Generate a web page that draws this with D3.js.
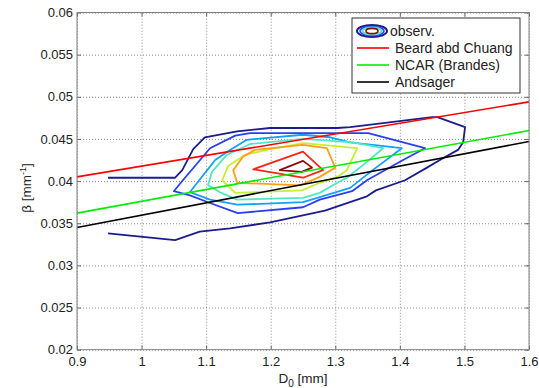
<!DOCTYPE html>
<html>
<head>
<meta charset="utf-8">
<script src="https://cdn.jsdelivr.net/npm/d3@7"></script>
<style>
  body { margin: 0; background: #fff; }
  svg { font-family: "Liberation Sans", Arial, sans-serif; }
</style>
</head>
<body>
<div id="chart"></div>
<script>
// axes
const xTicks = [0.9, 1, 1.1, 1.2, 1.3, 1.4, 1.5, 1.6];
const yTicks = [0.02, 0.025, 0.03, 0.035, 0.04, 0.045, 0.05, 0.055, 0.06];

// fitted lines: beta at D0 = 0.9 and 1.6
const lineNames = ["Beard abd Chuang", "NCAR (Brandes)", "Andsager"];
const lineEnds = [
  [[0.9, 0.0405], [1.6, 0.0494]],
  [[0.9, 0.0362], [1.6, 0.0460]],
  [[0.9, 0.0345], [1.6, 0.0447]]
];

// observed contours, outermost first (D0, beta)
const contourOuter = [[0.948,0.0338],[1.052,0.0330],[1.090,0.0340],[1.137,0.0344],[1.199,0.0351],[1.284,0.0365],[1.349,0.0382],[1.363,0.0389],[1.408,0.0401],[1.442,0.0416],[1.462,0.0425],[1.490,0.0437],[1.498,0.0446],[1.501,0.0464],[1.458,0.0476],[1.450,0.0476],[1.323,0.0464],[1.303,0.0463],[1.199,0.0463],[1.148,0.0459],[1.098,0.0452],[1.080,0.0438],[1.063,0.0413],[1.052,0.0404],[0.948,0.0404]];
const contour2 = [[1.050,0.0388],[1.075,0.0383],[1.106,0.0374],[1.149,0.0362],[1.250,0.0369],[1.276,0.0378],[1.326,0.0388],[1.349,0.0401],[1.405,0.0425],[1.439,0.0439],[1.351,0.0457],[1.168,0.0457],[1.145,0.0454],[1.106,0.0439],[1.064,0.0401]];
const contour3 = [[1.075,0.0387],[1.106,0.0378],[1.148,0.0372],[1.250,0.0375],[1.276,0.0381],[1.323,0.0392],[1.358,0.0413],[1.403,0.0439],[1.323,0.0446],[1.292,0.0452],[1.250,0.0455],[1.163,0.0449],[1.137,0.0437],[1.114,0.0425]];
const contour4 = [[1.103,0.0395],[1.109,0.0411],[1.132,0.0431],[1.168,0.0444],[1.250,0.0450],[1.327,0.0446],[1.374,0.0439],[1.343,0.0419],[1.318,0.0404],[1.303,0.0398],[1.276,0.0386],[1.250,0.0380],[1.148,0.0378],[1.121,0.0387]];
const contour5 = [[1.125,0.0401],[1.134,0.0418],[1.160,0.0431],[1.199,0.0438],[1.250,0.0445],[1.292,0.0442],[1.334,0.0439],[1.318,0.0413],[1.303,0.0405],[1.276,0.0398],[1.248,0.0389],[1.145,0.0386]];
const contour6 = [[1.142,0.0413],[1.157,0.0429],[1.176,0.0437],[1.250,0.0443],[1.287,0.0439],[1.300,0.0416],[1.276,0.0405],[1.245,0.0395],[1.148,0.0398]];
const contour7 = [[1.173,0.0414],[1.250,0.0435],[1.281,0.0413],[1.250,0.0404]];
const contour8 = [[1.214,0.0413],[1.250,0.0424],[1.264,0.0416],[1.248,0.0411]];

const contours = [contourOuter, contour2, contour3, contour4, contour5, contour6, contour7, contour8];
const contourColors = ["#1c1c8e", "#2a40f0", "#14a0ff", "#50e8c4", "#c4f034", "#ffa014", "#ff2414", "#8a0c0c"];
const lineColors = ["#ff0000", "#00ee00", "#000000"];

const W = 539, H = 388;
const m = { left: 77, right: 10, top: 12.5, bottom: 38.3 };
const w = W - m.left - m.right, h = H - m.top - m.bottom;

const svg = d3.select('#chart').append('svg')
  .attr('width', W)
  .attr('height', H);

const g = svg.append('g').attr('transform', `translate(${m.left},${m.top})`);

const x = d3.scaleLinear().domain([0.9, 1.6]).range([0, w]);
const y = d3.scaleLinear().domain([0.02, 0.06]).range([h, 0]);

// grid
g.append('g')
  .attr('class', 'grid')
  .attr('transform', `translate(0,${h})`)
  .call(d3.axisBottom(x).tickValues(xTicks).tickSize(-h).tickFormat(''));
g.append('g')
  .attr('class', 'grid')
  .call(d3.axisLeft(y).tickValues(yTicks).tickSize(-w).tickFormat(''));
g.selectAll('.grid .domain').remove();
g.selectAll('.grid line')
  .style('stroke', '#8c8c8c')
  .style('stroke-width', 1)
  .style('stroke-dasharray', '1,2');

// contours
const path = d3.line().x(d => x(d[0])).y(d => y(d[1]));
const closedPath = d3.line().x(d => x(d[0])).y(d => y(d[1])).curve(d3.curveLinearClosed);

contours.forEach((c, i) => {
  g.append('path')
    .datum(c)
    .attr('d', i === 0 ? path : closedPath)
    .style('fill', 'none')
    .style('stroke', contourColors[i])
    .style('stroke-width', 1.8)
    .style('stroke-linejoin', 'round');
});

// fitted lines
lineEnds.forEach((l, i) => {
  g.append('path')
    .datum(l)
    .attr('d', path)
    .style('fill', 'none')
    .style('stroke', lineColors[i])
    .style('stroke-width', 1.6);
});

// axes with inward ticks
const xAxis = g.append('g')
  .attr('transform', `translate(0,${h})`)
  .call(d3.axisBottom(x).tickValues(xTicks).tickSize(-4).tickPadding(7).tickFormat(d3.format('')));
const xTop = g.append('g')
  .call(d3.axisTop(x).tickValues(xTicks).tickSize(-4).tickFormat(''));
const yAxis = g.append('g')
  .call(d3.axisLeft(y).tickValues(yTicks).tickSize(-4).tickPadding(4).tickFormat(d3.format('')));
const yRight = g.append('g')
  .attr('transform', `translate(${w},0)`)
  .call(d3.axisRight(y).tickValues(yTicks).tickSize(-4).tickFormat(''));

[xAxis, xTop, yAxis, yRight].forEach(a => {
  a.select('.domain').remove();
  a.selectAll('line').style('stroke', '#666');
  a.selectAll('text')
    .style('font-size', '13px')
    .style('fill', '#222');
});

g.append('rect')
  .attr('width', w)
  .attr('height', h)
  .style('fill', 'none')
  .style('stroke', '#808080')
  .style('stroke-width', 1);

// axis labels
const xl = svg.append('text')
  .attr('x', m.left + w / 2)
  .attr('y', 383)
  .attr('text-anchor', 'middle')
  .style('font-size', '13.5px')
  .style('fill', '#222');
xl.append('tspan').text('D');
xl.append('tspan').attr('dy', 4).style('font-size', '10px').text('0');
xl.append('tspan').attr('dy', -4).text(' [mm]');

const yl = svg.append('text')
  .attr('transform', 'translate(31,188) rotate(-90)')
  .attr('text-anchor', 'middle')
  .style('font-size', '13.5px')
  .style('fill', '#222');
yl.append('tspan').text('β   [mm');
yl.append('tspan').attr('dy', -5).style('font-size', '9px').text('-1');
yl.append('tspan').attr('dy', 5).text(']');

// legend
const lg = svg.append('g');
lg.append('rect')
  .attr('x', 352).attr('y', 18)
  .attr('width', 168).attr('height', 75)
  .style('fill', '#fff')
  .style('stroke', '#333')
  .style('stroke-width', 1);

const icon = lg.append('g').attr('transform', 'translate(372,31)');
[[15, 6, contourColors[0], 2], [12, 4.5, contourColors[1], 1.5], [9.5, 3.5, contourColors[3], 2], [6, 2.6, contourColors[7], 1.6]].forEach(e => {
  icon.append('ellipse')
    .attr('rx', e[0]).attr('ry', e[1])
    .style('fill', 'none')
    .style('stroke', e[2])
    .style('stroke-width', e[3]);
});
lg.append('text')
  .attr('x', 390).attr('y', 36)
  .style('font-size', '14px')
  .style('fill', '#222')
  .text('observ.');

lineNames.forEach((name, i) => {
  const ly = 48 + i * 17;
  lg.append('line')
    .attr('x1', 357).attr('x2', 389)
    .attr('y1', ly).attr('y2', ly)
    .style('stroke', lineColors[i])
    .style('stroke-width', 1.6);
  lg.append('text')
    .attr('x', 395).attr('y', ly + 5)
    .style('font-size', '14px')
    .style('fill', '#222')
    .text(name);
});
</script>
</body>
</html>
